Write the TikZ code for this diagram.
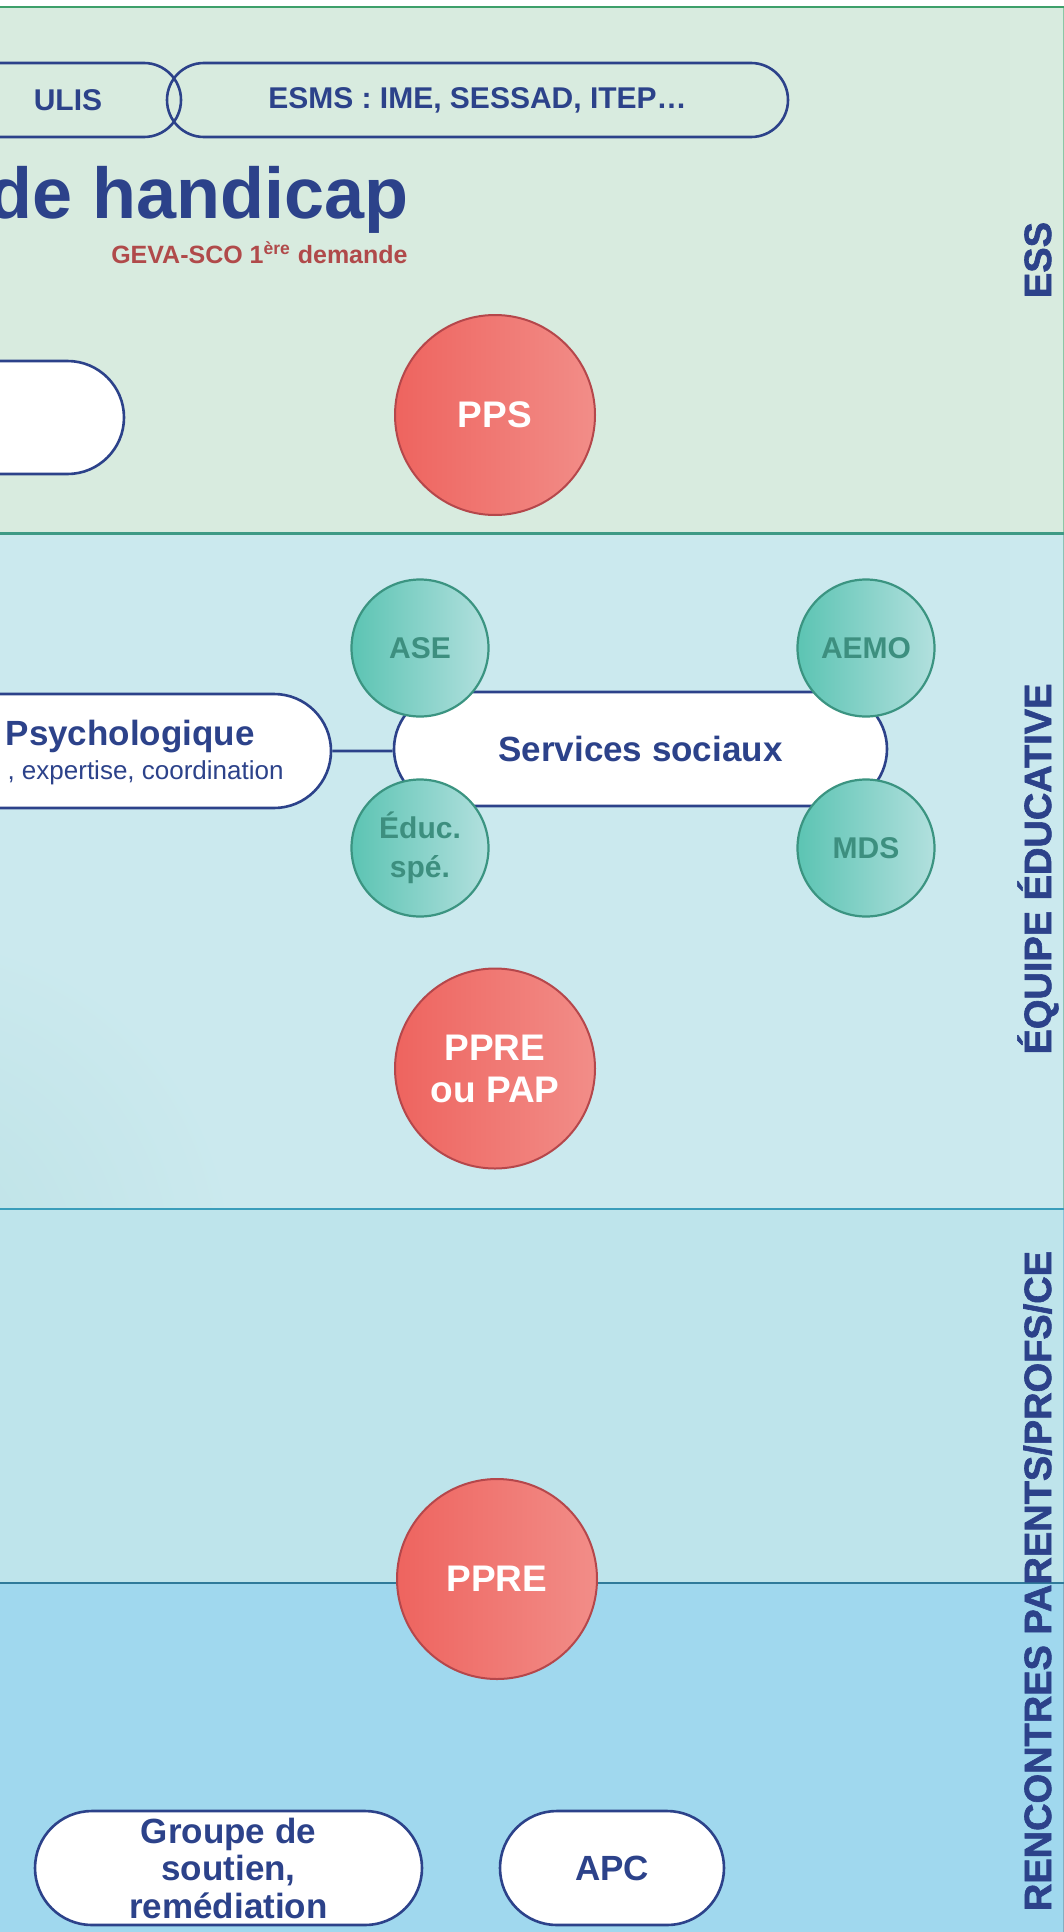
\documentclass[tikz,border=0pt]{standalone}
\usepackage{fontspec}
\setmainfont{Liberation Sans}
\newfontfamily\axefont[BoldFeatures={FakeBold=1.6}]{Liberation Sans}
\usetikzlibrary{shapes.misc,positioning}

\definecolor{navy}{HTML}{2C428A}
\definecolor{brick}{HTML}{B04A4A}
\definecolor{essbg}{HTML}{D8EBDF}
\definecolor{essline}{HTML}{3DA06A}
\definecolor{eqbg}{HTML}{CBE9EE}
\definecolor{eqline}{HTML}{3E9A85}
\definecolor{glow}{HTML}{BDE2E6}
\definecolor{renbg}{HTML}{BEE4EB}
\definecolor{renline}{HTML}{3A9DBA}
\definecolor{lowbg}{HTML}{A0D8EE}
\definecolor{lowline}{HTML}{2F7A9A}
\definecolor{redL}{HTML}{EE645F}
\definecolor{redR}{HTML}{F28D88}
\definecolor{redB}{HTML}{B5474B}
\definecolor{tealL}{HTML}{5CC4B3}
\definecolor{tealR}{HTML}{B2E0DE}
\definecolor{tealB}{HTML}{3B9481}
\definecolor{tealT}{HTML}{3D8F7F}

\tikzset{
  pill/.style={rounded rectangle, draw=navy, line width=1.3pt, fill=white, text=navy,
    font=\bfseries\fontsize{17.5}{18.75}\selectfont, align=center, inner sep=0pt,
    minimum height=57pt},
  onglet/.style={pill, fill=none, minimum height=37pt,
    font=\bfseries\fontsize{15}{15}\selectfont},
  dispositif/.style={circle, draw=redB, line width=1pt, left color=redL, right color=redR,
    minimum size=100pt, inner sep=0pt, text=white, align=center,
    font=\bfseries\fontsize{18.5}{21}\selectfont},
  service/.style={circle, draw=tealB, line width=1.1pt, left color=tealL, right color=tealR,
    minimum size=68.5pt, inner sep=0pt, text=tealT, align=center,
    font=\bfseries\fontsize{15}{19.5}\selectfont},
  axe/.style={rotate=90, anchor=base, inner sep=0pt, text=navy,
    font=\axefont\bfseries\fontsize{19}{19}\selectfont},
  lien/.style={draw=navy, line width=1.3pt}
}

\begin{document}
\begin{tikzpicture}[x=0.5pt,y=-0.5pt]

  \useasboundingbox (0,0) rectangle (1064,1932);
  \clip (0,0) rectangle (1064,1932);
  \fill[white] (0,0) rectangle (1064,1932);

  % bandes
  \draw[fill=essbg, draw=essline!60, line width=0.5pt] (-20,7) rectangle (1063,533);
  \draw[fill=eqbg, draw=eqline!60, line width=0.5pt] (-20,533) rectangle (1063,1209);
  \begin{scope}
    \clip (0,533) rectangle (1064,1209);
    \shade[inner color=glow, outer color=eqbg] (-90,1260) circle (330);
  \end{scope}
  \draw[fill=renbg, draw=renline!60, line width=0.5pt] (-20,1209) rectangle (1063,1583);
  \draw[fill=lowbg, draw=lowline!60, line width=0.5pt] (-20,1583) rectangle (1063,1960);
  \draw[essline, line width=1pt] (0,7) -- (1064,7);
  \draw[eqline, line width=1.5pt] (0,533) -- (1064,533);
  \draw[renline, line width=1.4pt] (0,1209) -- (1064,1209);
  \draw[lowline, line width=1pt] (0,1583) -- (1064,1583);

  % ESS
  \node[onglet, minimum width=113pt] (ulis) at (68,100) {ULIS};
  \node[onglet, minimum width=310.5pt] (esms) at (477.5,100) {ESMS : IME, SESSAD, ITEP…};
  \node[anchor=base east, inner sep=0pt, text=navy,
        font=\bfseries\fontsize{36}{36}\selectfont] (titre) at (409,218) {de handicap};
  \node[anchor=base east, inner sep=0pt, text=brick,
        font=\bfseries\fontsize{12.5}{12.5}\selectfont] (geva) at (408,263)
        {GEVA-SCO 1\textsuperscript{ère} demande};
  \node[pill, minimum width=224pt, minimum height=56.5pt] (vide) at (-100,417.5) {};
  \node[dispositif] (pps) at (495,415) {PPS};

  % equipe educative
  \node[pill, minimum width=331pt] (psy) at (0,751) {};
  \node[anchor=base east, inner sep=0pt, text=navy,
        font=\bfseries\fontsize{17.5}{17.5}\selectfont] (psytitre) at (255,745) {Psychologique};
  \node[anchor=base east, inner sep=0pt, text=navy,
        font=\fontsize{13}{13}\selectfont] (psytexte) at (284,779) {, expertise, coordination};
  \node[pill, minimum width=246.5pt] (ss) at (640.5,749) {Services sociaux};
  \path[lien] (psy) -- (ss.west |- psy);

  \node[service] (ase) at (420,648) {ASE};
  \node[service] (aemo) [right of=ase, node distance=223pt] {AEMO};
  \node[service] (educ) [below of=ase, node distance=100pt] {Éduc.\\spé.};
  \node[service] (mds) [right of=educ, node distance=223pt] {MDS};

  \node[dispositif] (pap) at (495,1068.5) {PPRE\\ou PAP};

  % rencontres
  \node[dispositif] (ppre) at (497,1579) {PPRE};
  \node[pill, minimum width=193.5pt] (groupe) at (228.5,1868) {Groupe de\\soutien,\\remédiation};
  \node[pill, minimum width=112pt] (apc) at (612,1868) {APC};

  % titres des bandes
  \node[axe] (ess) at (1051,260) {ESS};
  \node[axe] (equipe) at (1051,869) {ÉQUIPE ÉDUCATIVE};
  \node[axe] (rencontres) at (1051,1581) {RENCONTRES PARENTS/PROFS/CE};

\end{tikzpicture}
\end{document}
